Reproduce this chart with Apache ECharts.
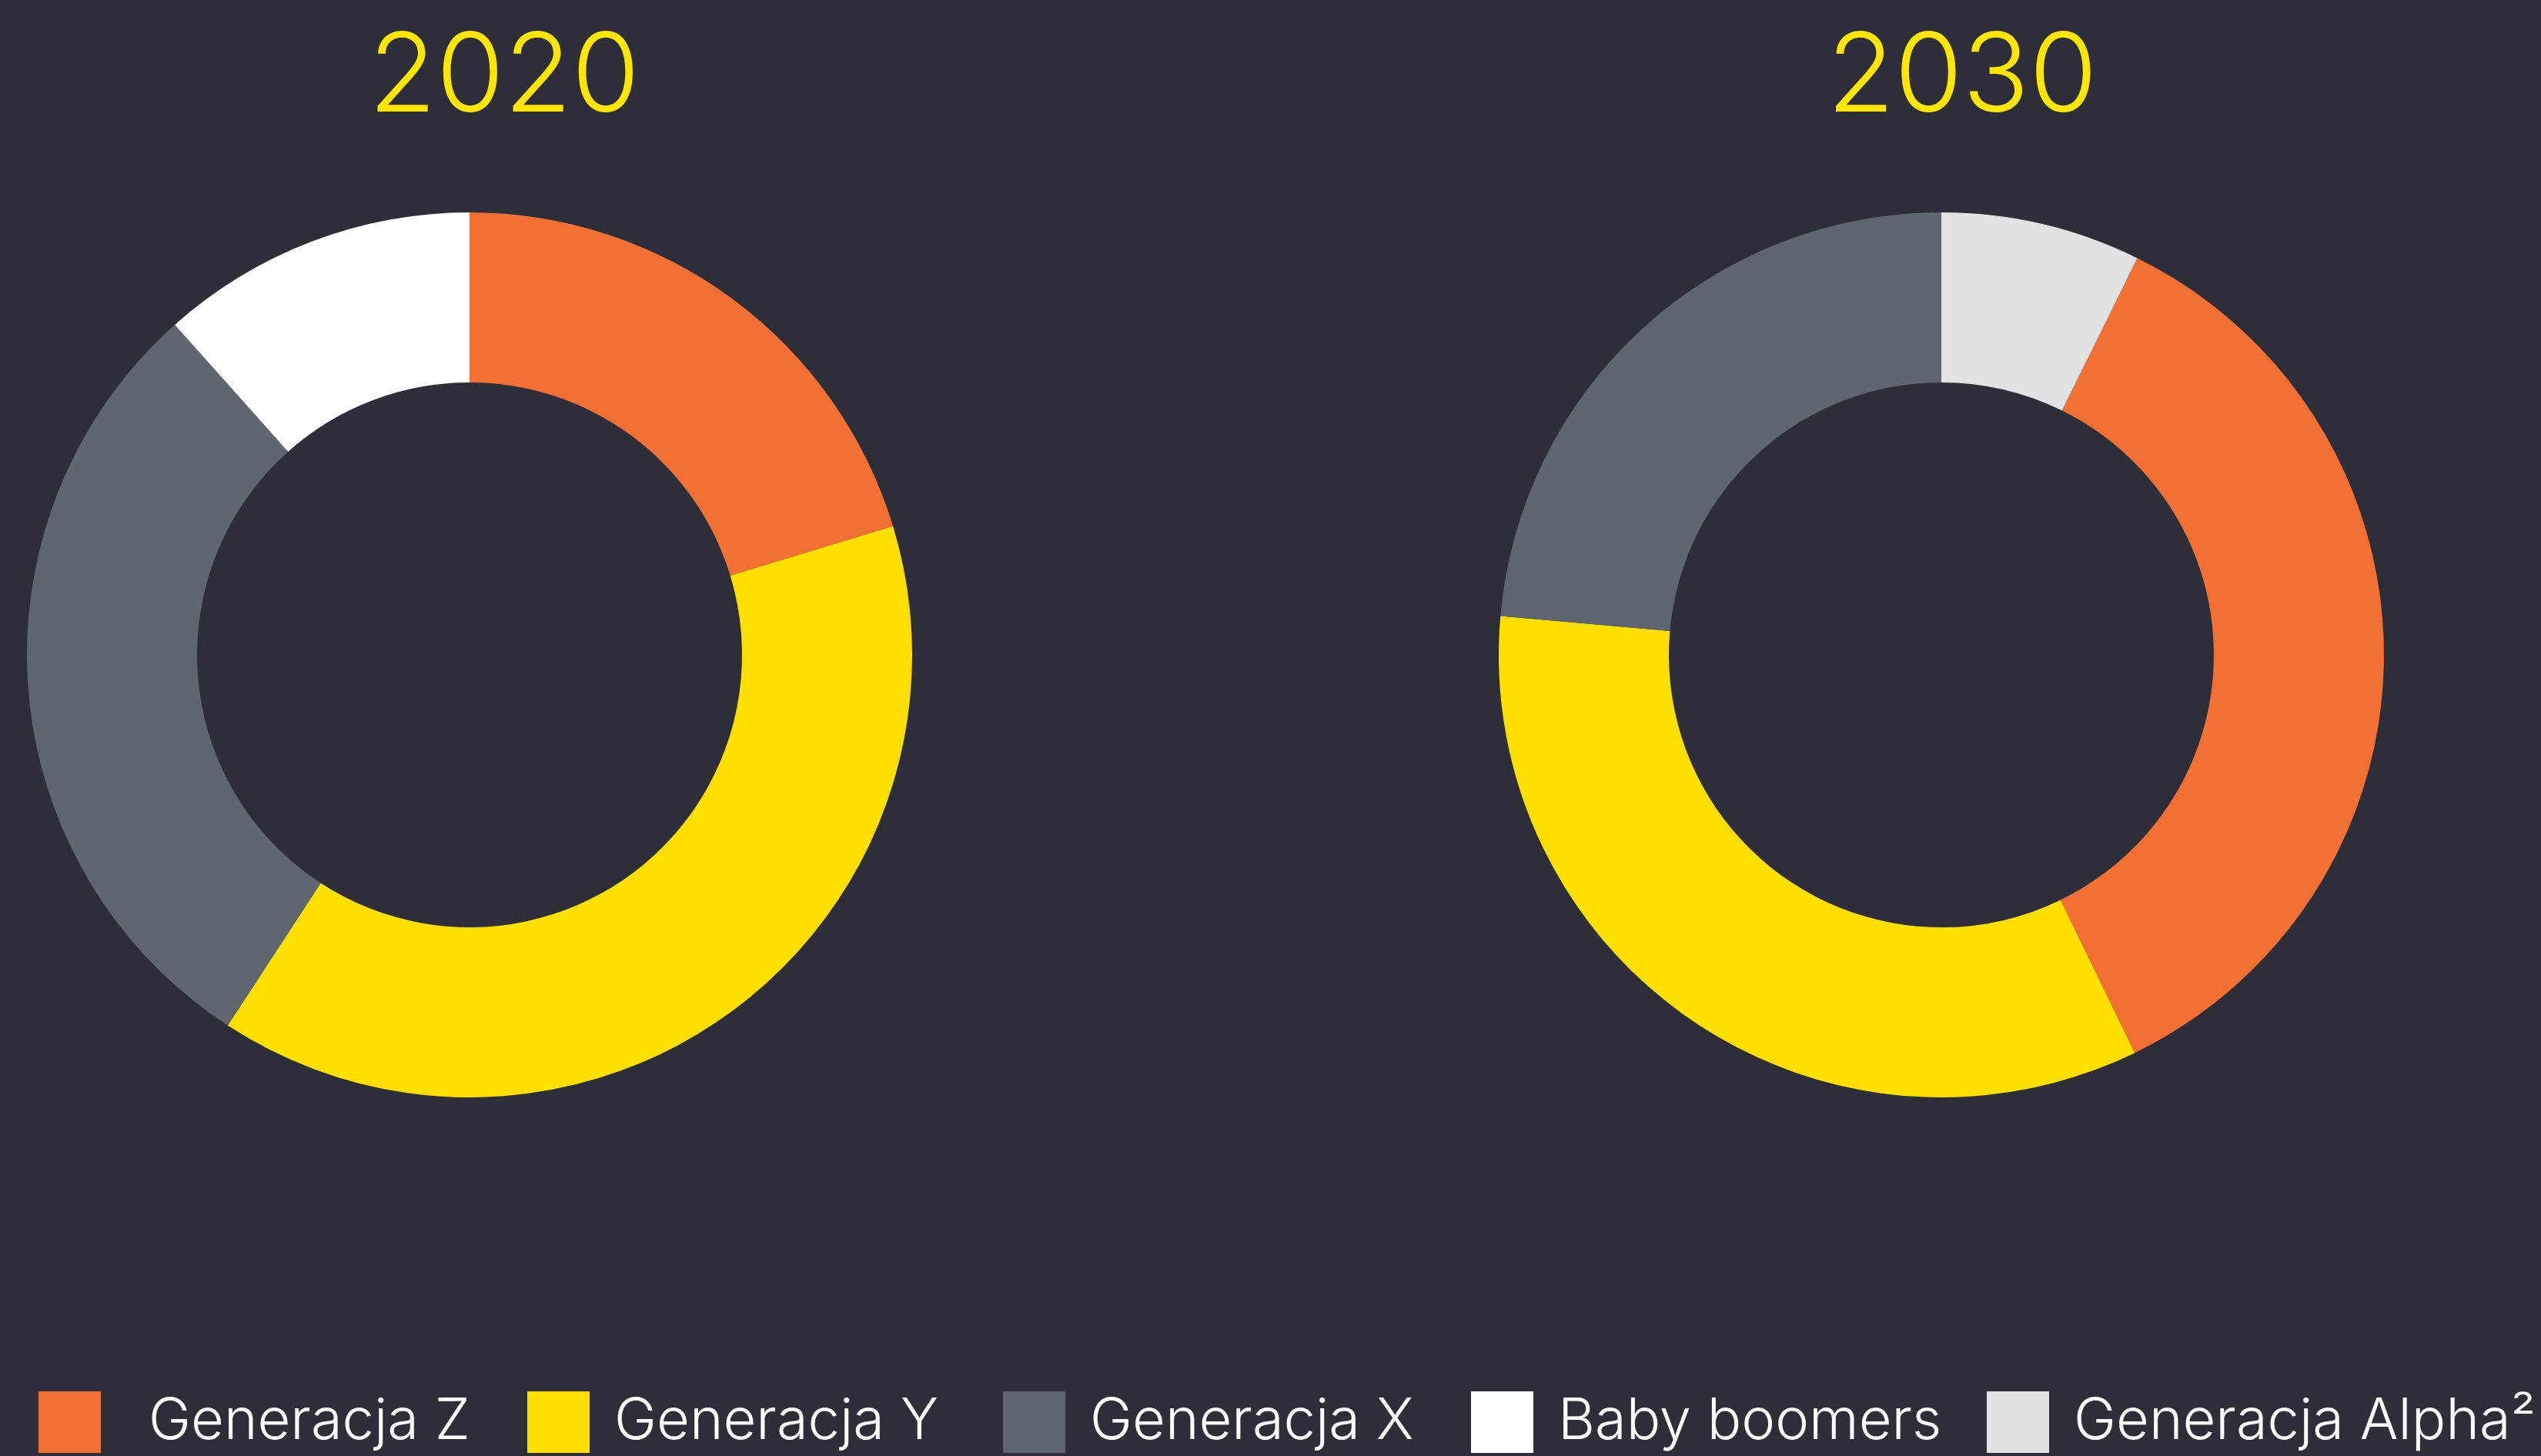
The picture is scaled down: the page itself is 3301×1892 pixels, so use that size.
<!DOCTYPE html>
<html>
<head>
<meta charset="utf-8">
<script src="https://cdn.jsdelivr.net/npm/echarts@6/dist/echarts.min.js"></script>
<style>
html,body{margin:0;padding:0;background:#2E2E38;}
#c{width:3301px;height:1892px;}
</style>
</head>
<body>
<div id="c"></div>
<script>
const categories = ['Generacja Z', 'Generacja Y', 'Generacja X', 'Baby boomers', 'Generacja Alpha²'];
const share2020 = [20.3, 38.9, 29.2, 11.6, 0];
const share2030 = [35.5, 33.6, 23.6, 0, 7.3];
const years = ['2020', '2030'];
const colors = ['#F37035', '#FFDF00', '#5F6672', '#FFFFFF', '#E1E2E4'];

const FONT = 'Inter';

function buildData(values) {
  return categories.map((name, i) => ({
    name: name,
    value: values[i],
    itemStyle: { color: colors[i] }
  }));
}
function sum(a) { return a.reduce((s, v) => s + v, 0); }

const legendLefts = [50, 685, 1303, 1911, 2581];
const legendPads = [57, 27, 27, 27, 27];

const chart = echarts.init(document.getElementById('c'), null, { renderer: 'canvas' });
chart.setOption({
  backgroundColor: '#2E2E38',
  animation: false,
  graphic: [
    { type: 'text', x: 655, y: 102, style: { text: years[0], fill: '#FFE600', font: '300 143px ' + FONT, textAlign: 'center', textVerticalAlign: 'middle' } },
    { type: 'text', x: 2549, y: 102, style: { text: years[1], fill: '#FFE600', font: '300 143px ' + FONT, textAlign: 'center', textVerticalAlign: 'middle' } }
  ],
  legend: categories.map((name, i) => ({
    data: [name],
    left: legendLefts[i],
    top: 1808,
    padding: 0,
    icon: 'rect',
    itemWidth: 81,
    itemHeight: 80,
    selectedMode: false,
    textStyle: { color: '#FFFFFF', fontFamily: FONT, fontWeight: 300, fontSize: 74, padding: [10, 0, 0, legendPads[i]] }
  })),
  series: [
    {
      type: 'pie',
      name: years[0],
      center: [610, 851],
      radius: [354, 575],
      startAngle: 90,
      clockwise: true,
      label: { show: false },
      labelLine: { show: false },
      emphasis: { disabled: true },
      itemStyle: { borderWidth: 0 },
      data: buildData(share2020)
    },
    {
      type: 'pie',
      name: years[1],
      center: [2522, 851],
      radius: [354, 575],
      startAngle: 90 - share2030[4] / sum(share2030) * 360,
      clockwise: true,
      label: { show: false },
      labelLine: { show: false },
      emphasis: { disabled: true },
      itemStyle: { borderWidth: 0 },
      data: buildData(share2030)
    }
  ]
});
</script>
</body>
</html>
